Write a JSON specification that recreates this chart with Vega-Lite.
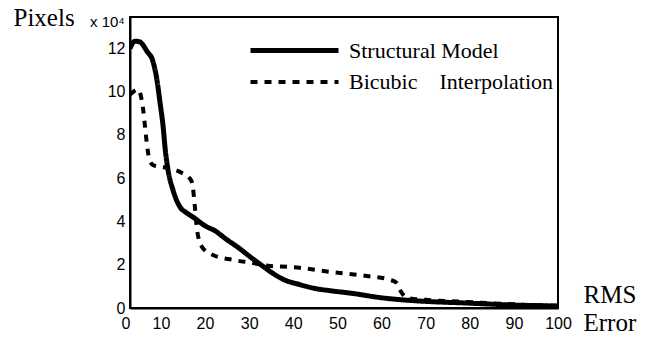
{
  "$schema": "https://vega.github.io/schema/vega-lite/v6.json",
  "autosize": "none",
  "padding": {"left": 130, "top": 17, "right": 89, "bottom": 31},
  "width": 428,
  "height": 291,
  "background": "white",
  "title": {
    "text": "x 10⁴",
    "anchor": "start",
    "frame": "group",
    "dx": -40,
    "dy": 25,
    "offset": 0,
    "font": "Liberation Sans",
    "fontSize": 15,
    "fontWeight": "normal",
    "color": "black"
  },
  "data": {
    "values": [
      {"series": "Structural Model", "x": 3, "pixels": 120000},
      {"series": "Structural Model", "x": 4.1, "pixels": 123300},
      {"series": "Structural Model", "x": 5.2, "pixels": 123000},
      {"series": "Structural Model", "x": 6.9, "pixels": 118500},
      {"series": "Structural Model", "x": 8.2, "pixels": 114000},
      {"series": "Structural Model", "x": 9.1, "pixels": 105500},
      {"series": "Structural Model", "x": 9.8, "pixels": 95000},
      {"series": "Structural Model", "x": 10.5, "pixels": 84000},
      {"series": "Structural Model", "x": 11.0, "pixels": 73000},
      {"series": "Structural Model", "x": 11.6, "pixels": 64000},
      {"series": "Structural Model", "x": 12.75, "pixels": 54500},
      {"series": "Structural Model", "x": 14.3, "pixels": 46800},
      {"series": "Structural Model", "x": 15.8, "pixels": 44000},
      {"series": "Structural Model", "x": 17.3, "pixels": 42000},
      {"series": "Structural Model", "x": 20.4, "pixels": 37500},
      {"series": "Structural Model", "x": 22, "pixels": 36000},
      {"series": "Structural Model", "x": 25, "pixels": 31500},
      {"series": "Structural Model", "x": 27.5, "pixels": 28000},
      {"series": "Structural Model", "x": 30.2, "pixels": 23700},
      {"series": "Structural Model", "x": 33, "pixels": 19500},
      {"series": "Structural Model", "x": 35.4, "pixels": 16000},
      {"series": "Structural Model", "x": 38, "pixels": 13000},
      {"series": "Structural Model", "x": 41.5, "pixels": 10800},
      {"series": "Structural Model", "x": 45, "pixels": 9000},
      {"series": "Structural Model", "x": 48.4, "pixels": 8000},
      {"series": "Structural Model", "x": 53.6, "pixels": 6700},
      {"series": "Structural Model", "x": 59.7, "pixels": 4800},
      {"series": "Structural Model", "x": 64, "pixels": 3900},
      {"series": "Structural Model", "x": 68.8, "pixels": 3200},
      {"series": "Structural Model", "x": 79.2, "pixels": 2300},
      {"series": "Structural Model", "x": 89.4, "pixels": 1400},
      {"series": "Structural Model", "x": 100, "pixels": 900},
      {"series": "Bicubic Interpolation", "x": 3, "pixels": 98600},
      {"series": "Bicubic Interpolation", "x": 4.8, "pixels": 101000},
      {"series": "Bicubic Interpolation", "x": 5.9, "pixels": 93000},
      {"series": "Bicubic Interpolation", "x": 6.4, "pixels": 84000},
      {"series": "Bicubic Interpolation", "x": 6.9, "pixels": 74500},
      {"series": "Bicubic Interpolation", "x": 7.5, "pixels": 68000},
      {"series": "Bicubic Interpolation", "x": 8.3, "pixels": 66000},
      {"series": "Bicubic Interpolation", "x": 9.1, "pixels": 65500},
      {"series": "Bicubic Interpolation", "x": 12.1, "pixels": 64500},
      {"series": "Bicubic Interpolation", "x": 14.8, "pixels": 62400},
      {"series": "Bicubic Interpolation", "x": 16.5, "pixels": 60000},
      {"series": "Bicubic Interpolation", "x": 17.1, "pixels": 57700},
      {"series": "Bicubic Interpolation", "x": 17.7, "pixels": 46800},
      {"series": "Bicubic Interpolation", "x": 18.2, "pixels": 36000},
      {"series": "Bicubic Interpolation", "x": 19.3, "pixels": 28300},
      {"series": "Bicubic Interpolation", "x": 21.8, "pixels": 24500},
      {"series": "Bicubic Interpolation", "x": 26.4, "pixels": 22200},
      {"series": "Bicubic Interpolation", "x": 30.9, "pixels": 20800},
      {"series": "Bicubic Interpolation", "x": 34.7, "pixels": 19400},
      {"series": "Bicubic Interpolation", "x": 39.3, "pixels": 19000},
      {"series": "Bicubic Interpolation", "x": 48.4, "pixels": 16700},
      {"series": "Bicubic Interpolation", "x": 56.7, "pixels": 14800},
      {"series": "Bicubic Interpolation", "x": 62, "pixels": 13000},
      {"series": "Bicubic Interpolation", "x": 63.5, "pixels": 11500},
      {"series": "Bicubic Interpolation", "x": 64.2, "pixels": 8300},
      {"series": "Bicubic Interpolation", "x": 66, "pixels": 4600},
      {"series": "Bicubic Interpolation", "x": 70, "pixels": 3800},
      {"series": "Bicubic Interpolation", "x": 79.2, "pixels": 2800},
      {"series": "Bicubic Interpolation", "x": 90, "pixels": 1700},
      {"series": "Bicubic Interpolation", "x": 100, "pixels": 1000}
    ]
  },
  "mark": {"type": "line", "color": "black", "interpolate": "monotone", "strokeCap": "butt", "clip": true},
  "encoding": {
    "x": {
      "field": "x",
      "type": "quantitative",
      "scale": {"domain": [3, 100], "nice": false, "zero": false},
      "axis": {
        "title": ["RMS", "Error"],
        "values": [3, 10, 20, 30, 40, 50, 60, 70, 80, 90, 100],
        "labelExpr": "datum.value == 3 ? '0' : datum.label",
        "labelAlign": {"condition": {"test": "datum.value == 3", "value": "right"}, "value": "center"},
        "labelPadding": 7,
        "titleX": 453,
        "titleY": -6,
        "titleAlign": "left",
        "titleBaseline": "alphabetic",
        "titleLineHeight": 28,
        "titleFont": "Liberation Serif",
        "titleFontSize": 25
      }
    },
    "y": {
      "field": "pixels",
      "type": "quantitative",
      "scale": {"domain": [0, 134500], "nice": false},
      "axis": {
        "title": "Pixels",
        "values": [0, 20000, 40000, 60000, 80000, 100000, 120000],
        "labelExpr": "format(datum.value / 10000, 'd')",
        "labelPadding": 5,
        "titleAngle": 0,
        "titleAlign": "left",
        "titleBaseline": "alphabetic",
        "titleX": -117,
        "titleY": 8,
        "titleFont": "Liberation Serif",
        "titleFontSize": 25
      }
    },
    "strokeDash": {
      "field": "series",
      "type": "nominal",
      "title": null,
      "scale": {"domain": ["Structural Model", "Bicubic Interpolation"], "range": [[1, 0], [7, 7]]},
      "legend": {
        "labelExpr": "datum.label == 'Bicubic Interpolation' ? 'Bicubic\u00a0\u00a0\u00a0\u00a0Interpolation' : datum.label"
      }
    },
    "strokeWidth": {
      "field": "series",
      "type": "nominal",
      "title": null,
      "scale": {"domain": ["Structural Model", "Bicubic Interpolation"], "range": [5, 4]}
    }
  },
  "config": {
    "view": {"stroke": "black", "strokeWidth": 2},
    "axis": {
      "grid": false,
      "ticks": false,
      "domainColor": "black",
      "domainWidth": 2,
      "labelFont": "Liberation Sans",
      "labelFontSize": 16,
      "labelColor": "black",
      "labelOverlap": false,
      "titleColor": "black",
      "titleFontWeight": "normal"
    },
    "legend": {
      "orient": "none",
      "legendX": 117,
      "legendY": 20,
      "padding": 0,
      "symbolType": "M-4,0H4",
      "symbolSize": 484,
      "symbolOffset": 34,
      "symbolStrokeColor": "black",
      "symbolFillColor": "transparent",
      "labelOffset": 41,
      "labelFont": "Liberation Serif",
      "labelFontSize": 22,
      "labelColor": "black",
      "labelLimit": 400,
      "rowPadding": 7
    }
  }
}
